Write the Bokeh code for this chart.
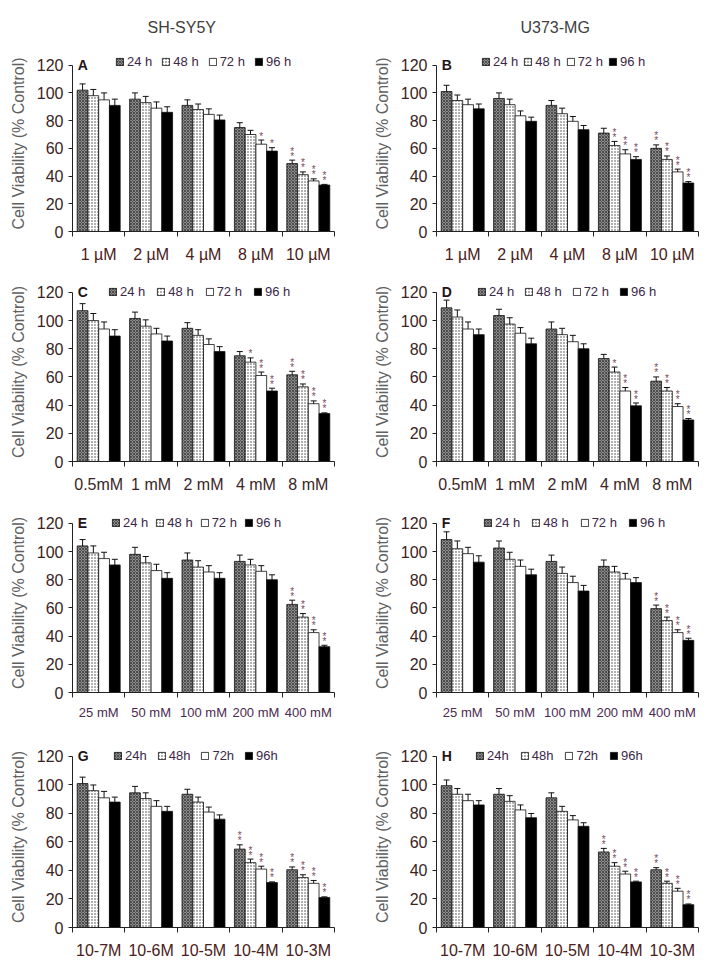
from bokeh.plotting import figure
from bokeh.models import ColumnDataSource, Whisker, TeeHead, Legend, LegendItem, FixedTicker, Label
from bokeh.layouts import gridplot
from bokeh.embed import file_html
from bokeh.resources import INLINE
from bokeh.core.properties import value

# ---------------- data ----------------
cats_um = ["1 µM", "2 µM", "4 µM", "8 µM", "10 µM"]
cats_mm = ["0.5mM", "1 mM", "2 mM", "4 mM", "8 mM"]
cats_mm2 = ["25 mM", "50 mM", "100 mM", "200 mM", "400 mM"]
cats_m = ["10-7M", "10-6M", "10-5M", "10-4M", "10-3M"]
labels_sp = ["24 h", "48 h", "72 h", "96 h"]
labels_ns = ["24h", "48h", "72h", "96h"]
headers = ["SH-SY5Y", "U373-MG"]

A_24 = [102, 95.5, 91, 75, 49]
A_48 = [98, 93, 88, 70, 41]
A_72 = [95, 89, 84.5, 63, 36.5]
A_96 = [91, 86, 80.5, 58, 33.5]
A_err = [[4.5, 4.5, 4, 3.5, 2.5], [4.5, 4.5, 4, 3, 2], [5, 4.5, 4, 3, 1.5], [4.5, 4, 3.5, 2.5, 0.5]]
A_sig = [[0, 0, 0, 0, 2], [0, 0, 0, 0, 2], [0, 0, 0, 1, 2], [0, 0, 0, 1, 2]]

B_24 = [101, 96, 91, 71, 60]
B_48 = [94.5, 91.5, 85, 62, 52]
B_72 = [91.5, 83.5, 79.5, 56, 43]
B_96 = [88.5, 79.5, 73.5, 52, 35]
B_err = [[4.5, 4, 3.5, 3.5, 2.5], [4, 4, 4, 3, 2.5], [4, 3.5, 3.5, 3, 2], [3.5, 3, 3, 2, 1]]
B_sig = [[0, 0, 0, 0, 2], [0, 0, 0, 2, 2], [0, 0, 0, 2, 2], [0, 0, 0, 2, 2]]

C_24 = [107, 101.5, 94.5, 75, 61.5]
C_48 = [100, 96, 89.5, 70.5, 53]
C_72 = [94, 90.5, 83, 61, 41]
C_96 = [89, 85.5, 78, 50, 34]
C_err = [[5, 4.5, 4, 3, 2.5], [5, 4.5, 4, 3, 2], [5, 4, 4, 2.5, 2], [4.5, 3.5, 3.5, 2, 0.5]]
C_sig = [[0, 0, 0, 0, 2], [0, 0, 0, 1, 2], [0, 0, 0, 2, 2], [0, 0, 0, 2, 2]]

D_24 = [109, 103.5, 94, 73, 57]
D_48 = [102.5, 97.5, 90, 63.5, 50]
D_72 = [94, 91, 85, 50, 39]
D_96 = [90, 83.5, 80, 39.5, 29.5]
D_err = [[5.5, 4.5, 5, 3, 3], [5, 4.5, 4.5, 3.5, 2.5], [5, 4, 4.5, 2.5, 2], [4, 4, 3.5, 2, 1]]
D_sig = [[0, 0, 0, 0, 2], [0, 0, 0, 1, 2], [0, 0, 0, 2, 2], [0, 0, 0, 2, 2]]

E_24 = [104, 98, 94, 93, 62.5]
E_48 = [99, 92, 89, 90.5, 53.5]
E_72 = [95, 86.5, 85.5, 86, 42.5]
E_96 = [90.5, 81, 81, 80, 32.5]
E_err = [[4.5, 5, 5, 4.5, 3], [5, 4.5, 4.5, 4, 2.5], [4.5, 4.5, 4.5, 4, 2], [4, 4, 4, 3.5, 1]]
E_sig = [[0, 0, 0, 0, 2], [0, 0, 0, 0, 2], [0, 0, 0, 0, 2], [0, 0, 0, 0, 2]]

F_24 = [108.5, 102.5, 93, 89.5, 59.5]
F_48 = [102, 94.5, 84.5, 85.5, 51]
F_72 = [98.5, 89.5, 78, 80.5, 42.5]
F_96 = [92.5, 83.5, 72, 78, 37]
F_err = [[5.5, 5, 4.5, 4.5, 2.5], [5.5, 5, 4.5, 4, 2.5], [4.5, 4.5, 4.5, 4, 2], [4.5, 4, 4, 3.5, 1.5]]
F_sig = [[0, 0, 0, 0, 2], [0, 0, 0, 0, 2], [0, 0, 0, 0, 2], [0, 0, 0, 0, 2]]

G_24 = [101, 94.5, 93.5, 55, 40.5]
G_48 = [96, 90.5, 88, 45.5, 35]
G_72 = [91, 85, 81, 41, 31]
G_96 = [88, 81.5, 76, 31.5, 21]
G_err = [[4.5, 4.5, 3.5, 3, 2], [4, 4, 3.5, 2.5, 2], [4.5, 4, 3.5, 2, 2], [3.5, 3.5, 3, 0.5, 0.5]]
G_sig = [[0, 0, 0, 2, 2], [0, 0, 0, 2, 2], [0, 0, 0, 2, 2], [0, 0, 0, 2, 2]]

H_24 = [99.5, 93.5, 91, 53, 40.5]
H_48 = [93.5, 88.5, 81.5, 43, 31]
H_72 = [89, 82.5, 75.5, 37.5, 25.5]
H_96 = [86, 77, 71, 32, 16]
H_err = [[4, 4, 3.5, 2.5, 1.5], [4, 4, 3.5, 2.5, 1.5], [4.5, 3.5, 3, 2, 2], [3, 3, 2.5, 0.5, 0.5]]
H_sig = [[0, 0, 0, 2, 2], [0, 0, 0, 2, 2], [0, 0, 0, 2, 2], [0, 0, 0, 2, 2]]

y_ticks = [0, 20, 40, 60, 80, 100, 120]

# ---------------- styling ----------------
FONT = "Liberation Sans"
BAR_W = 0.205
OFFS = [-1.5, -0.5, 0.5, 1.5]
STYLES = [
    dict(fill_color="#8c8c8c", hatch_pattern="diagonal_cross", hatch_color="#3c3c3c", hatch_scale=3, hatch_weight=0.8),
    dict(fill_color="#ffffff", hatch_pattern="dot", hatch_color="#3a3a3a", hatch_scale=3, hatch_weight=0.9),
    dict(fill_color="#ffffff"),
    dict(fill_color="#000000"),
]
# (top border, frame height, bottom border, x label standoff) per row
ROWS = [(52, 179, 35, 9), (16, 179, 35, 9), (17, 179, 31, 7), (23, 181, 35, 9)]
# (figure width, left border) per column
COLS = [(352, 72), (354, 84)]
FRAME_W = 262


def make_panel(letter, cats, series, errs, sig, labels, col, row, cat_font, cat_color,
               leg_x, leg_spacing, header=None, header_off=0):
    fw, left = COLS[col]
    right = fw - left - FRAME_W
    top, fh, bottom, xstand = ROWS[row]
    p = figure(width=fw, height=top + fh + bottom, x_range=(0, 5), y_range=(0, 127),
               output_backend="svg", toolbar_location=None, tools="",
               min_border_left=left, min_border_right=right,
               min_border_top=top, min_border_bottom=bottom,
               title=header)
    p.grid.visible = False
    p.outline_line_color = None
    p.background_fill_color = "white"
    p.border_fill_color = "white"
    if header:
        p.title.align = "left"
        p.title.offset = header_off
        p.title.text_font = FONT
        p.title.text_font_size = "16px"
        p.title.text_font_style = "normal"
        p.title.text_color = "#404040"
        p.title.vertical_align = "top"
        p.title.standoff = 36

    # y axis
    ya = p.yaxis[0]
    ya.ticker = FixedTicker(ticks=y_ticks)
    ya.bounds = (0, 120)
    ya.major_tick_in = 0
    ya.major_tick_out = 4
    ya.minor_tick_out = 0
    ya.minor_tick_in = 0
    ya.major_label_standoff = 5
    ya.major_label_text_font = FONT
    ya.major_label_text_font_size = "16px"
    ya.major_label_text_color = "#3a2424"
    ya.axis_label = "Cell Viability (% Control)"
    ya.axis_label_text_font = FONT
    ya.axis_label_text_font_size = "16px"
    ya.axis_label_text_font_style = "normal"
    ya.axis_label_text_color = "#606060"
    ya.axis_label_standoff = 7
    ya.axis_line_color = "#222222"
    ya.major_tick_line_color = "#222222"

    # x axis
    xa = p.xaxis[0]
    centers = [i + 0.5 for i in range(len(cats))]
    xa.ticker = FixedTicker(ticks=centers, minor_ticks=[float(i) for i in range(len(cats) + 1)])
    xa.major_label_overrides = {c: t for c, t in zip(centers, cats)}
    xa.major_tick_in = 0
    xa.major_tick_out = 0
    xa.minor_tick_in = 0
    xa.minor_tick_out = 5
    xa.minor_tick_line_color = "#222222"
    xa.axis_line_color = "#222222"
    xa.major_label_standoff = xstand
    xa.major_label_text_font = FONT
    xa.major_label_text_font_size = cat_font
    xa.major_label_text_color = cat_color

    rends = []
    for j in range(4):
        xs = [i + 0.5 + OFFS[j] * BAR_W for i in range(len(cats))]
        tops = series[j]
        up = [t + e for t, e in zip(tops, errs[j])]
        lo = [t - e for t, e in zip(tops, errs[j])]
        src = ColumnDataSource(dict(x=xs, top=tops, upper=up, lower=lo))
        r = p.vbar(x="x", top="top", bottom=0, width=BAR_W, source=src,
                   line_color="#111111", line_width=0.8, **STYLES[j])
        rends.append(r)
        p.add_layout(Whisker(source=src, base="x", upper="upper", lower="lower",
                             line_color="#111111", line_width=1,
                             upper_head=TeeHead(size=6, line_color="#111111", line_width=1),
                             lower_head=TeeHead(size=6, line_color="#111111", line_width=1)))
        s1x = [x for x, n in zip(xs, sig[j]) if n >= 1]
        s1y = [u for u, n in zip(up, sig[j]) if n >= 1]
        s2x = [x for x, n in zip(xs, sig[j]) if n >= 2]
        s2y = [u for u, n in zip(up, sig[j]) if n >= 2]
        for sx, sy, off in ((s1x, s1y, -4), (s2x, s2y, -9)):
            if sx:
                p.text(x=sx, y=sy, text=["*"] * len(sx), y_offset=off,
                       text_font=value(FONT), text_font_size="10px",
                       text_color="#7a4a60", text_align="center", text_baseline="middle")

    leg_y = int(round(120 * fh / 127.0)) - 7
    legend = Legend(items=[LegendItem(label=labels[j], renderers=[rends[j]]) for j in range(4)],
                    orientation="horizontal", location=(leg_x, leg_y),
                    padding=0, margin=0, spacing=leg_spacing, label_standoff=3,
                    glyph_width=9, glyph_height=9, label_height=14,
                    border_line_color=None, background_fill_alpha=0,
                    label_text_font=FONT, label_text_font_size="13px",
                    label_text_color="#3c2848")
    p.add_layout(legend)

    p.add_layout(Label(x=0.1, y=120, text=letter, text_font=FONT, text_font_size="14px",
                       text_font_style="bold", text_baseline="middle", text_color="#1e1616"))
    return p


pA = make_panel("A", cats_um, [A_24, A_48, A_72, A_96], A_err, A_sig, labels_sp, 0, 0,
                "16px", "#4a2020", 43, 9, headers[0], 75)
pB = make_panel("B", cats_um, [B_24, B_48, B_72, B_96], B_err, B_sig, labels_sp, 1, 0,
                "16px", "#4a2020", 45, 5, headers[1], 84)
pC = make_panel("C", cats_mm, [C_24, C_48, C_72, C_96], C_err, C_sig, labels_sp, 0, 1,
                "16px", "#3a2626", 36, 11)
pD = make_panel("D", cats_mm, [D_24, D_48, D_72, D_96], D_err, D_sig, labels_sp, 1, 1,
                "16px", "#3a2626", 41, 10)
pE = make_panel("E", cats_mm2, [E_24, E_48, E_72, E_96], E_err, E_sig, labels_sp, 0, 2,
                "13px", "#4a2a50", 39, 7)
pF = make_panel("F", cats_mm2, [F_24, F_48, F_72, F_96], F_err, F_sig, labels_sp, 1, 2,
                "13px", "#4a2a50", 47, 11)
pG = make_panel("G", cats_m, [G_24, G_48, G_72, G_96], G_err, G_sig, labels_ns, 0, 3,
                "16px", "#4a2020", 41, 10)
pH = make_panel("H", cats_m, [H_24, H_48, H_72, H_96], H_err, H_sig, labels_ns, 1, 3,
                "16px", "#4a2020", 39, 11)

grid = gridplot([[pA, pB], [pC, pD], [pE, pF], [pG, pH]], toolbar_location=None)

open("out.html", "w").write(file_html(grid, INLINE))
